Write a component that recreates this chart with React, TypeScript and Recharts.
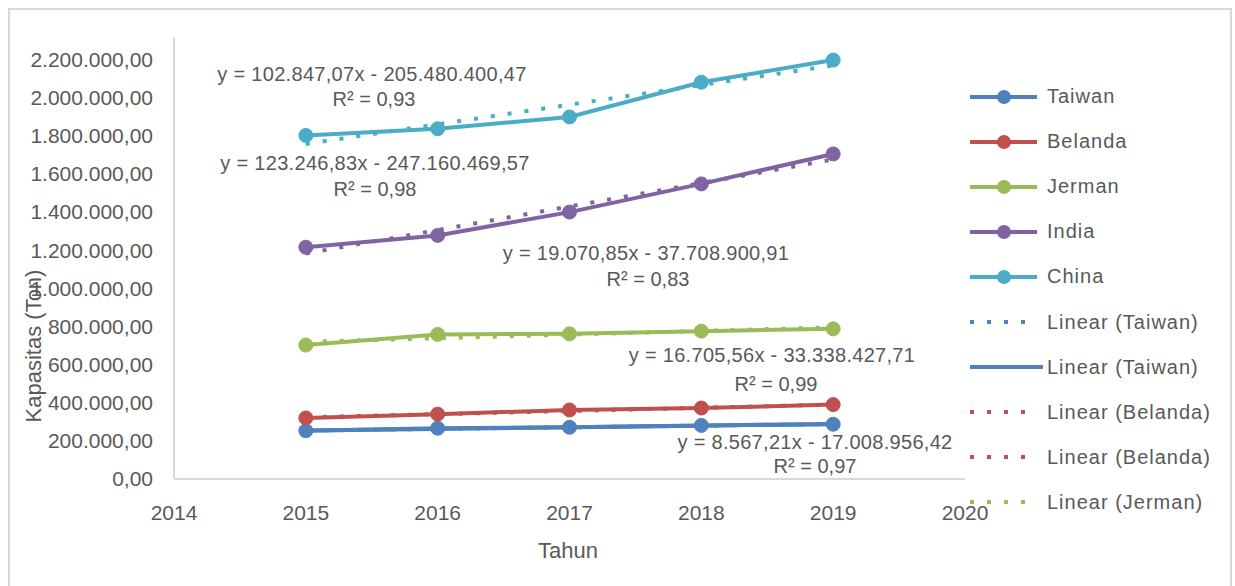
import React from "react"
import { Customized, Line, LineChart, XAxis, YAxis } from "recharts"

const years = [2015, 2016, 2017, 2018, 2019]
const xTicks = [2014, 2015, 2016, 2017, 2018, 2019, 2020]
const yTicks = [0, 200000, 400000, 600000, 800000, 1000000, 1200000, 1400000, 1600000, 1800000, 2000000, 2200000]

const taiwan = [253000, 266000, 271000, 281000, 287000]
const belanda = [320000, 340000, 362000, 372000, 390000]
const jerman = [702000, 758000, 761000, 775000, 787000]
const india = [1215000, 1277000, 1399000, 1547000, 1704000]
const china = [1801000, 1836000, 1898000, 2080000, 2196000]

const seriesNames = ["Taiwan", "Belanda", "Jerman", "India", "China"]
const seriesValues = [taiwan, belanda, jerman, india, china]
const seriesColors = ["#4F81BD", "#C0504D", "#9BBB59", "#8064A2", "#4BACC6"]

// trendline coefficients as printed on the chart
const slopes = [8567.21, 16705.56, 19070.85, 123246.83, 102847.07]
const intercepts = [-17008956.42, -33338427.71, -37708900.91, -247160469.57, -205480400.47]
const equationTexts = [
  "y = 8.567,21x - 17.008.956,42",
  "y = 16.705,56x - 33.338.427,71",
  "y = 19.070,85x - 37.708.900,91",
  "y = 123.246,83x - 247.160.469,57",
  "y = 102.847,07x - 205.480.400,47",
]
const r2Texts = ["R² = 0,97", "R² = 0,99", "R² = 0,83", "R² = 0,98", "R² = 0,93"]

const legendItems = [
  { name: "Taiwan", color: "#4F81BD", kind: "marker" },
  { name: "Belanda", color: "#C0504D", kind: "marker" },
  { name: "Jerman", color: "#9BBB59", kind: "marker" },
  { name: "India", color: "#8064A2", kind: "marker" },
  { name: "China", color: "#4BACC6", kind: "marker" },
  { name: "Linear (Taiwan)", color: "#4F81BD", kind: "dot" },
  { name: "Linear (Taiwan)", color: "#4F81BD", kind: "solid" },
  { name: "Linear (Belanda)", color: "#C0504D", kind: "dot" },
  { name: "Linear (Belanda)", color: "#C0504D", kind: "dot" },
  { name: "Linear (Jerman)", color: "#9BBB59", kind: "dot" },
]

// label placement (pixels), same order as equationTexts
const labelPos = [
  { x: 815, y: 442, rx: 815, ry: 466 },
  { x: 772, y: 355, rx: 776, ry: 384 },
  { x: 646, y: 253, rx: 648, ry: 279 },
  { x: 375, y: 163, rx: 375, ry: 189 },
  { x: 372, y: 74, rx: 374, ry: 99 },
]

const FONT = "'Liberation Sans', Arial, sans-serif"
const TEXT = "#595959"
const AXIS = "#d9d9d9"

const data = years.map((year, i) => {
  const row: Record<string, number> = { year }
  seriesNames.forEach((name, s) => {
    row[name] = seriesValues[s][i]
    row[`trend${name}`] = slopes[s] * year + intercepts[s]
  })
  return row
})

const formatY = (v: number) =>
  v.toLocaleString("de-DE", { minimumFractionDigits: 2, maximumFractionDigits: 2 })

function ChartTexts() {
  return (
    <g fontFamily={FONT} fill={TEXT}>
      {equationTexts.map((t, i) => (
        <g key={i} fontSize={20}>
          <text x={labelPos[i].x} y={labelPos[i].y} textAnchor="middle" dominantBaseline="central" letterSpacing={0.3}>
            {t}
          </text>
          <text x={labelPos[i].rx} y={labelPos[i].ry} textAnchor="middle" dominantBaseline="central">
            {r2Texts[i]}
          </text>
        </g>
      ))}
      <text x={568} y={550} fontSize={22} textAnchor="middle" dominantBaseline="central">
        Tahun
      </text>
      <text
        x={33}
        y={346}
        fontSize={22}
        textAnchor="middle"
        dominantBaseline="central"
        transform="rotate(-90 33 346)"
      >
        Kapasitas (Ton)
      </text>
    </g>
  )
}

function LegendBox() {
  return (
    <div style={{ fontFamily: FONT, color: TEXT, fontSize: 20, letterSpacing: 1 }}>
      {legendItems.map((item, i) => (
        <div key={i} style={{ display: "flex", alignItems: "center", height: 45.1 }}>
          <svg width={77} height={20}>
            {item.kind === "dot" ? (
              <line x1={0} y1={10} x2={67} y2={10} stroke={item.color} strokeWidth={4} strokeDasharray="4 13" />
            ) : (
              <line x1={0} y1={10} x2={item.kind === "solid" ? 73 : 67} y2={10} stroke={item.color} strokeWidth={4} />
            )}
            {item.kind === "marker" && <circle cx={34} cy={10} r={7} fill={item.color} />}
          </svg>
          <span>{item.name}</span>
        </div>
      ))}
    </div>
  )
}

export default function App() {
  return (
    <div style={{ position: "absolute", left: 0, top: 0, width: 1235, height: 586, overflow: "hidden", background: "#fff" }}>
      <div
        style={{
          position: "absolute",
          left: 8,
          top: 8,
          width: 1220,
          height: 620,
          border: `2px solid ${AXIS}`,
        }}
      />
      <div style={{ position: "absolute", left: 0, top: 0 }}>
        <LineChart width={1235} height={586} data={data} margin={{ top: 37, right: 270, bottom: 0, left: 0 }}>
          <XAxis
            type="number"
            dataKey="year"
            domain={[2014, 2020]}
            ticks={xTicks}
            height={107}
            tickLine={false}
            tickMargin={20}
            axisLine={{ stroke: AXIS, strokeWidth: 2 }}
            tick={{ fill: TEXT, fontSize: 21, fontFamily: FONT }}
          />
          <YAxis
            type="number"
            domain={[0, 2317000]}
            ticks={yTicks}
            width={174}
            tickLine={false}
            tickMargin={15}
            tickFormatter={formatY}
            axisLine={{ stroke: AXIS, strokeWidth: 2 }}
            tick={{ fill: TEXT, fontSize: 21, fontFamily: FONT }}
          />
          {seriesNames.map((name, s) => (
            <Line
              key={`trend${name}`}
              dataKey={`trend${name}`}
              stroke={seriesColors[s]}
              strokeWidth={4}
              strokeDasharray="4 13"
              dot={false}
              activeDot={false}
              isAnimationActive={false}
            />
          ))}
          <Line
            dataKey="trendTaiwan"
            stroke={seriesColors[0]}
            strokeWidth={4}
            dot={false}
            activeDot={false}
            isAnimationActive={false}
          />
          {seriesNames.map((name, s) => (
            <Line
              key={name}
              dataKey={name}
              stroke={seriesColors[s]}
              strokeWidth={4}
              dot={{ r: 7, fill: seriesColors[s], stroke: seriesColors[s], strokeWidth: 1 }}
              activeDot={false}
              isAnimationActive={false}
            />
          ))}
          <Customized component={<ChartTexts />} />
        </LineChart>
      </div>
      <div style={{ position: "absolute", left: 970, top: 74, width: 260 }}>
        <LegendBox />
      </div>
    </div>
  )
}
